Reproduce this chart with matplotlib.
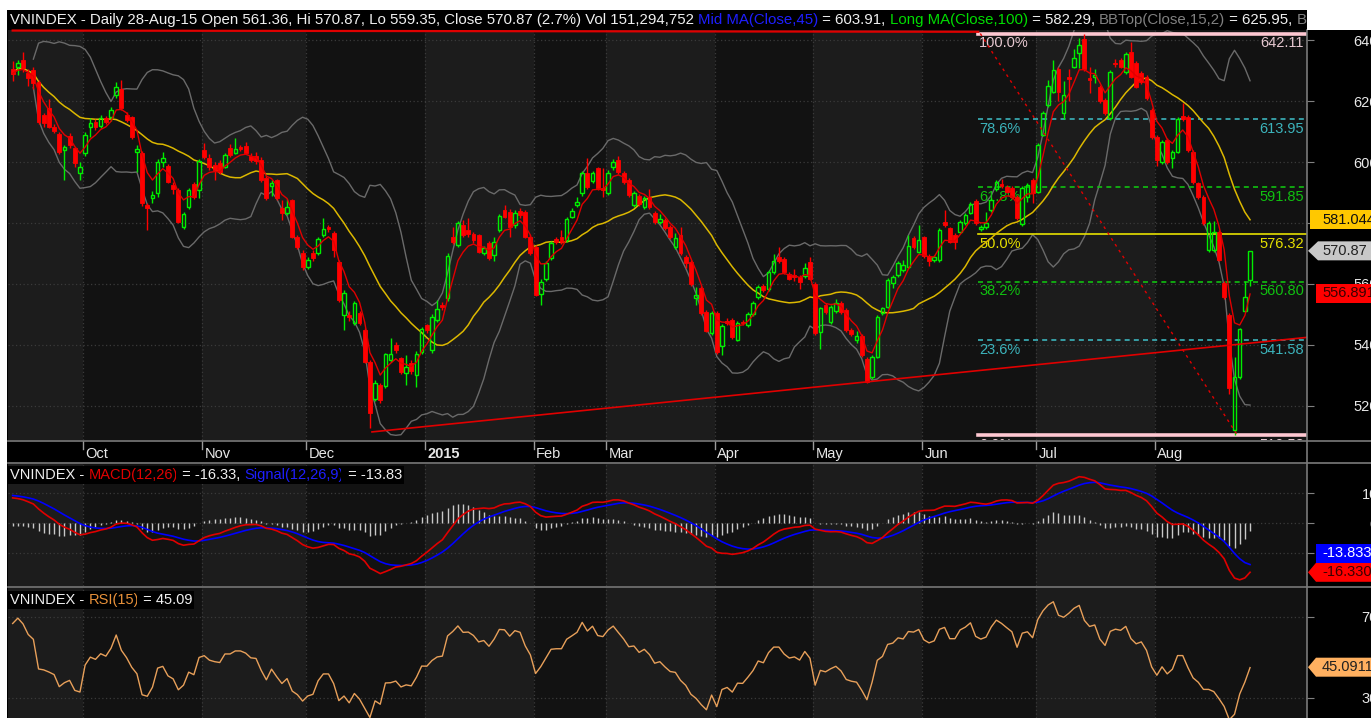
import numpy as np
import pandas as pd
import matplotlib
matplotlib.use("Agg")
import matplotlib.pyplot as plt
from matplotlib.patches import Polygon, Rectangle
from matplotlib.lines import Line2D

W, H = 1371, 718
plt.rcParams["font.family"] = ["Liberation Sans", "DejaVu Sans"]

# ---- daily VNINDEX candles, Sep 2014 .. 28 Aug 2015 ----
open_ = [
    630.5, 631.3, 633.4, 629.1, 630.2, 626.3, 615.4, 617.6, 611.6, 609.2, 603.9, 608.5, 604.5, 596.5,
    603.1, 611.6, 613.2, 611.9, 614.3, 614.6, 622.0, 623.8, 615.4, 614.6, 603.4, 602.8, 585.9, 588.3,
    589.7, 600.0, 598.7, 592.5, 590.8, 578.6, 585.4, 592.8, 590.8,
    603.9, 601.2, 599.0, 599.6, 598.5, 604.5, 603.1, 605.0, 605.2, 602.0, 602.0, 600.7, 594.6, 592.0,
    594.1, 584.8, 583.2, 587.5, 575.5, 570.1,
    565.7, 570.1, 570.1, 576.1, 578.6, 576.8, 567.3, 549.8, 549.8, 547.1, 550.4, 544.9, 534.5, 522.2,
    526.9, 526.6, 535.1, 540.0, 535.6, 530.9, 534.0, 530.2, 537.8,
    546.5, 538.4, 548.2, 553.1, 555.3, 575.3, 572.8, 579.3, 577.7, 576.4, 576.1, 570.3, 573.5, 569.5,
    577.7, 584.3, 583.7, 579.3, 584.0, 583.7, 575.5,
    572.2, 556.7, 561.8, 568.4, 574.6, 575.3, 574.4, 582.1, 585.9, 589.7, 596.5, 593.9, 597.9, 591.4,
    589.9, 598.2, 600.7, 596.3, 594.1, 585.9, 588.8, 585.3, 588.6, 583.2, 580.2, 581.0, 578.8, 572.0,
    576.1, 569.0, 567.3, 555.3, 558.6, 550.9, 544.0,
    550.4, 539.7, 548.0, 548.2, 541.8, 547.6, 546.5, 550.2, 555.8, 559.3, 558.2, 564.0, 568.7, 568.1,
    563.3, 562.8, 562.4, 562.6, 567.3,
    560.0, 544.4, 553.1, 547.6, 551.2, 553.9, 551.5, 544.9, 541.8, 542.9, 535.3, 529.4, 536.2, 550.4,
    552.6, 560.2, 563.0, 564.6, 565.7, 575.0, 570.6,
    575.3, 569.2, 567.9, 567.9, 580.4, 578.2, 576.1, 577.2, 579.9, 583.4, 587.3, 578.1, 578.6, 584.3,
    591.0, 592.8, 591.9, 591.4, 588.6, 579.7, 588.6, 594.1,
    590.3, 608.9, 618.7, 623.1, 630.4, 616.2, 627.8, 631.3, 635.6, 640.2, 627.4, 628.0, 624.7, 620.3,
    614.3, 632.6, 633.4, 629.6, 636.2, 632.4, 629.1, 628.0, 617.1,
    608.3, 600.1, 607.2, 601.2, 603.4, 615.1, 614.9, 603.4, 593.0, 588.6, 571.0, 571.1, 577.2, 560.2,
    549.8, 512.0, 529.4, 551.3, 561.36,
]
high = [
    633.0, 633.5, 636.2, 630.5, 631.0, 627.0, 616.0, 620.8, 612.5, 610.0, 605.5, 609.5, 605.0, 600.0,
    610.0, 614.3, 614.0, 615.5, 615.0, 618.0, 626.3, 626.9, 616.5, 615.0, 605.6, 603.5, 586.5, 590.5,
    601.0, 603.4, 599.5, 593.5, 591.5, 583.5, 591.5, 593.5, 601.0,
    606.1, 602.5, 600.0, 600.5, 603.0, 605.9, 607.8, 605.5, 606.7, 603.0, 603.4, 601.5, 595.5, 594.0,
    594.5, 587.5, 588.0, 588.0, 576.0, 571.0,
    569.0, 571.0, 575.5, 581.5, 579.5, 577.5, 568.0, 558.0, 551.0, 554.5, 551.0, 545.5, 535.0, 528.5,
    527.5, 537.5, 542.2, 541.1, 536.0, 536.7, 535.0, 538.0, 546.0,
    547.0, 550.0, 554.8, 554.0, 570.0, 578.8, 580.8, 581.0, 581.5, 577.0, 576.5, 572.5, 574.0, 575.5,
    583.0, 585.9, 584.5, 584.3, 584.8, 584.2, 576.0,
    572.8, 561.5, 567.5, 574.2, 575.5, 577.7, 582.0, 585.0, 588.4, 597.0, 601.2, 597.2, 598.5, 597.9,
    597.3, 601.0, 602.0, 597.0, 594.8, 590.4, 589.5, 589.0, 591.0, 583.8, 583.0, 581.6, 579.4, 576.8,
    578.6, 569.6, 567.9, 559.1, 559.2, 551.5, 551.2,
    551.0, 546.8, 549.0, 548.8, 547.9, 548.2, 550.8, 554.3, 559.7, 559.9, 564.6, 569.8, 572.2, 568.7,
    563.9, 565.0, 563.0, 567.0, 568.8,
    560.6, 552.6, 553.7, 553.2, 555.0, 554.5, 552.1, 545.5, 544.5, 543.5, 535.9, 536.8, 549.9, 552.6,
    561.9, 563.0, 567.4, 568.0, 576.0, 575.6, 579.3,
    575.9, 569.8, 569.6, 578.3, 584.3, 578.8, 576.7, 581.0, 583.2, 586.8, 587.9, 579.4, 583.7, 588.1,
    594.1, 594.5, 592.5, 592.0, 589.2, 592.0, 593.1, 594.7,
    606.2, 616.8, 626.9, 633.5, 631.0, 626.5, 630.5, 637.0, 640.5, 642.11, 631.0, 630.5, 625.3, 620.9,
    630.2, 633.8, 634.0, 636.0, 639.5, 633.0, 629.7, 628.6, 617.7,
    608.9, 607.3, 607.8, 604.0, 614.6, 619.2, 615.5, 604.0, 593.6, 589.2, 580.8, 580.8, 577.8, 560.9,
    550.4, 536.2, 545.7, 560.9, 570.87,
]
low = [
    626.5, 628.5, 629.5, 625.0, 624.0, 612.5, 611.5, 611.0, 609.5, 602.5, 594.1, 604.5, 598.5, 594.1,
    602.0, 608.3, 610.5, 611.0, 612.5, 613.5, 621.0, 617.0, 613.0, 607.5, 596.8, 585.5, 577.7, 586.5,
    588.5, 598.5, 593.0, 589.5, 580.0, 578.0, 584.5, 588.0, 588.1,
    601.0, 597.5, 594.0, 596.0, 598.0, 601.5, 602.5, 603.5, 602.5, 600.0, 599.5, 593.5, 587.5, 589.0,
    587.5, 581.0, 582.5, 575.0, 571.5, 564.6,
    565.0, 567.5, 569.5, 575.5, 577.0, 569.0, 554.0, 545.0, 548.0, 546.5, 546.5, 534.0, 512.7, 521.5,
    521.0, 526.0, 534.5, 537.5, 530.5, 526.9, 530.5, 526.1, 537.0,
    544.0, 537.5, 547.5, 551.5, 554.5, 573.0, 572.0, 575.5, 575.5, 573.5, 570.0, 569.5, 567.9, 567.5,
    577.0, 581.5, 575.5, 578.5, 581.5, 575.0, 569.5,
    556.0, 553.1, 561.0, 567.8, 573.2, 573.2, 573.8, 581.5, 585.3, 589.0, 591.2, 593.2, 590.8, 588.6,
    589.3, 597.5, 596.2, 592.8, 588.6, 585.3, 585.5, 584.6, 584.6, 579.8, 579.6, 577.6, 574.9, 571.4,
    569.5, 565.1, 559.4, 553.1, 549.8, 544.1, 543.4,
    537.2, 536.7, 546.7, 542.1, 541.2, 546.5, 545.9, 549.6, 555.2, 557.4, 557.6, 563.4, 567.0, 563.4,
    561.2, 561.0, 558.2, 562.0, 561.2,
    543.4, 538.6, 550.3, 547.0, 550.6, 550.3, 544.3, 543.0, 540.5, 536.1, 527.4, 528.8, 535.6, 549.8,
    552.0, 558.6, 562.4, 564.0, 565.1, 571.6, 570.0,
    568.6, 565.9, 567.3, 567.3, 578.7, 573.3, 571.5, 576.6, 579.3, 582.8, 579.5, 577.5, 578.0, 583.7,
    590.4, 591.5, 589.7, 588.0, 580.9, 579.1, 587.0, 586.4,
    589.7, 608.5, 618.1, 622.5, 620.0, 614.0, 620.0, 630.7, 630.7, 629.8, 622.5, 626.0, 619.5, 615.4,
    613.7, 631.0, 630.7, 629.0, 627.4, 624.1, 625.7, 620.3, 607.7,
    598.6, 599.5, 599.5, 597.9, 602.8, 613.4, 603.3, 592.9, 588.0, 579.3, 570.4, 570.5, 567.4, 555.2,
    524.0, 510.58, 528.8, 550.7, 559.35,
]
close = [
    629.0, 632.4, 630.7, 627.4, 625.8, 613.2, 612.7, 611.6, 610.3, 603.4, 604.8, 605.6, 599.6, 598.5,
    608.9, 612.7, 611.6, 614.3, 613.2, 617.0, 624.5, 617.6, 613.8, 608.3, 604.2, 586.4, 584.8, 589.2,
    600.1, 601.2, 593.6, 591.0, 580.4, 583.0, 590.8, 588.6, 600.4,
    601.8, 598.5, 597.4, 596.8, 602.3, 602.3, 604.2, 604.2, 603.1, 600.7, 600.4, 594.1, 588.1, 593.0,
    588.1, 583.2, 585.4, 575.5, 572.2, 565.7,
    567.9, 568.6, 574.6, 577.9, 577.9, 571.1, 554.8, 557.0, 549.1, 553.7, 547.3, 534.5, 517.6, 527.6,
    522.0, 537.0, 537.2, 538.4, 531.3, 532.7, 531.6, 537.2, 545.1,
    545.0, 549.1, 551.7, 552.3, 569.3, 573.9, 580.1, 576.1, 576.4, 574.4, 570.6, 571.7, 568.4, 573.9,
    582.3, 582.1, 578.8, 583.4, 582.6, 575.5, 570.1,
    556.4, 560.8, 566.8, 573.5, 573.9, 573.9, 581.2, 584.0, 587.0, 596.5, 591.9, 596.5, 591.4, 590.8,
    596.5, 600.1, 596.8, 593.5, 589.2, 589.7, 586.2, 588.1, 585.3, 580.4, 581.2, 578.2, 575.5, 575.0,
    570.1, 566.8, 560.0, 556.4, 550.4, 544.7, 550.6,
    537.8, 546.2, 547.3, 542.7, 547.3, 547.1, 550.2, 553.7, 559.1, 558.0, 564.0, 567.6, 567.6, 564.0,
    561.8, 562.4, 560.8, 565.1, 561.8,
    544.0, 552.0, 550.9, 552.6, 553.9, 550.9, 544.9, 543.6, 542.9, 536.7, 528.0, 536.2, 549.3, 552.0,
    561.3, 562.4, 566.8, 566.2, 572.5, 572.2, 574.4,
    569.2, 567.6, 569.0, 577.7, 579.3, 573.9, 573.9, 580.4, 582.6, 586.2, 580.1, 578.8, 580.1, 587.5,
    593.5, 592.1, 590.3, 588.6, 581.5, 591.4, 592.5, 589.7,
    605.6, 616.2, 624.9, 630.2, 623.1, 622.0, 627.1, 634.0, 638.4, 630.4, 626.9, 628.5, 620.1, 616.0,
    629.6, 632.0, 631.3, 635.4, 628.0, 624.7, 626.3, 620.9, 608.3,
    600.7, 606.7, 600.1, 603.4, 614.0, 614.0, 603.9, 593.5, 588.6, 579.9, 579.9, 577.2, 568.0, 555.8,
    525.8, 529.6, 545.1, 555.86, 570.87,
]

# month axis (index of first session of each month)
month_labels = ["Oct", "Nov", "Dec", "2015", "Feb", "Mar", "Apr", "May", "Jun", "Jul", "Aug"]
month_start = [14, 37, 57, 80, 101, 115, 136, 155, 176, 198, 221]

# price axis ticks
price_ticks = [520, 540, 560, 580, 600, 620, 640]

# fibonacci retracement drawn on the chart
fib_pct = [100.0, 78.6, 61.8, 50.0, 38.2, 23.6, 0.0]
fib_val = [642.11, 613.95, 591.85, 576.32, 560.80, 541.58, 510.58]
fib_from = [186.9, 642.11]
fib_to = [236.5, 510.58]

# trend lines drawn by hand
trend_x = [69.4, 250.0]
trend_y = [511.5, 542.5]
top_x = [0.0, 186.5]
top_y = [643.1, 642.7]

# seeds for the indicators (state before the first visible bar)
macd_seed = {"ema12": 627.0, "ema26": 618.0, "signal": 9.5}
rsi_seed = {"gain": 2.0, "loss": 1.0}

# ---- indicators ----
o = np.array(open_)
hi = np.array(high)
lo = np.array(low)
c = np.array(close)
n = len(c)
x = np.arange(n)
s = pd.Series(c)
ema5 = s.ewm(span=5, adjust=False).mean()
sma20 = s.rolling(20, min_periods=1).mean()
mid15 = s.rolling(15, min_periods=5).mean()
sd15 = s.rolling(15, min_periods=5).std(ddof=0)
bb_top = mid15 + 2 * sd15
bb_bot = mid15 - 2 * sd15


def ema_from(values, span, start):
    a = 2.0 / (span + 1)
    out = np.empty(len(values))
    e = start
    for i, v in enumerate(values):
        e += a * (v - e)
        out[i] = e
    return out


macd = ema_from(c, 12, macd_seed["ema12"]) - ema_from(c, 26, macd_seed["ema26"])
signal = ema_from(macd, 9, macd_seed["signal"])
hist = macd - signal

d = np.diff(c, prepend=c[0])
ag, al = rsi_seed["gain"], rsi_seed["loss"]
rsi = []
for g, l_ in zip(np.clip(d, 0, None), np.clip(-d, 0, None)):
    ag = (ag * 14 + g) / 15
    al = (al * 14 + l_) / 15
    rsi.append(100 - 100 / (1 + ag / al))
rsi = np.array(rsi)

# ---- figure layout (pixel based) ----
fig = plt.figure(figsize=(W / 100, H / 100), dpi=100, facecolor="white")


def fx(p):
    return p / W


def fy(p):
    return 1 - p / H


def box(l, t, r, b):
    return [fx(l), fy(b), fx(r) - fx(l), fy(t) - fy(b)]


fig.add_artist(Rectangle((fx(7), 0), fx(1307) - fx(7), fy(10), transform=fig.transFigure,
                         facecolor="black", edgecolor="none", zorder=-20))
fig.add_artist(Rectangle((fx(1307), 0), 1 - fx(1307), fy(30), transform=fig.transFigure,
                         facecolor="black", edgecolor="none", zorder=-20))

ax = fig.add_axes(box(8, 30, 1307, 440))
axd = fig.add_axes(box(8, 441, 1307, 463))
axm = fig.add_axes(box(8, 464, 1307, 586))
axr = fig.add_axes(box(8, 588, 1307, 718))

XLIM = (-0.9, 250.0)
LIGHT, DARK = "#1c1c1c", "#121212"
GRID = "#3a3a3a"
TXT = "#e8e8e8"
FS = 10.5
ticks = [m - 0.4 for m in month_start]
edges = [XLIM[0]] + ticks + [XLIM[1]]

for a in (ax, axm, axr):
    a.set_xlim(*XLIM)
    a.set_facecolor(DARK)
    for i in range(len(edges) - 1):
        a.axvspan(edges[i], edges[i + 1], color=LIGHT if i % 2 == 0 else DARK, lw=0, zorder=0)
    for t in ticks:
        a.axvline(t, color=GRID, lw=0.9, ls=(0, (1, 2)), zorder=1)
    for sp in a.spines.values():
        sp.set_visible(False)
    a.set_xticks([])
    a.yaxis.tick_right()
    a.tick_params(axis="y", length=5, color="#808080", labelcolor=TXT, labelsize=FS, pad=46)
    a.grid(axis="y", color=GRID, lw=0.9, ls=(0, (1, 2)), zorder=1)


def right_labels(a):
    for lab in a.get_yticklabels():
        lab.set_horizontalalignment("right")


# ---- main price panel ----
ax.set_ylim(508.85, 643.28)
ax.set_yticks(price_ticks)
right_labels(ax)

ax.plot(x, bb_top, color="#6a6a6a", lw=1.0, zorder=2)
ax.plot(x, bb_bot, color="#6a6a6a", lw=1.0, zorder=2)
ax.plot(x, sma20, color="#dcb800", lw=1.1, zorder=3)

GREEN, RED = "#00ee00", "#ff0000"
up = c >= o
b_lo = np.minimum(o, c)
b_hi = np.maximum(o, c)
col = np.where(up, GREEN, RED)
ax.vlines(x, b_hi, hi, colors=col, lw=1.0, zorder=4)
ax.vlines(x, lo, b_lo, colors=col, lw=1.0, zorder=4)
ax.bar(x[~up], (b_hi - b_lo)[~up], bottom=b_lo[~up], width=0.75, color=RED,
       edgecolor=RED, lw=0.6, zorder=4)
ax.bar(x[up], (b_hi - b_lo)[up], bottom=b_lo[up], width=0.68, facecolor="none",
       edgecolor=GREEN, lw=1.0, zorder=4)
ax.plot(x, ema5, color="#e00000", lw=1.0, zorder=5)

# trend lines
ax.plot(trend_x, trend_y, color="#e00000", lw=1.2, zorder=5)
ax.plot(top_x, top_y, color="#e00000", lw=1.6, zorder=5, clip_on=False)
ax.plot([fib_from[0], fib_to[0]], [fib_from[1], fib_to[1]], color="#e00000", lw=1.0,
        ls=(0, (2, 3)), zorder=5)

# fibonacci levels
fib_style = {
    100.0: ("#ffc8d2", "-", 2.6, "#e6c8d0"),
    78.6: ("#3cb4bc", (0, (3, 2.5)), 1.2, "#3cb4bc"),
    61.8: ("#10c010", (0, (3, 2.5)), 1.2, "#10c010"),
    50.0: ("#e6e000", "-", 1.2, "#e6e000"),
    38.2: ("#10c010", (0, (3, 2.5)), 1.2, "#10c010"),
    23.6: ("#3cb4bc", (0, (3, 2.5)), 1.2, "#3cb4bc"),
    0.0: ("#ffc8d2", "-", 2.6, "#e6c8d0"),
}
for p, v in zip(fib_pct, fib_val):
    lc, ls, lw, tc = fib_style[p]
    ax.plot([fib_from[0] - 0.4, XLIM[1]], [v, v], color=lc, ls=ls, lw=lw, zorder=2)
    for txt, xx, dx, ha in ((f"{p:.1f}%", fib_from[0] - 0.2, 0, "left"),
                            (f"{v:.2f}", XLIM[1], -2, "right")):
        t = ax.annotate(txt, (xx, v), xytext=(dx, -2), textcoords="offset points",
                        color=tc, fontsize=FS, ha=ha, va="top", zorder=2, annotation_clip=False)
        t.set_clip_on(True)
        t.set_clip_box(ax.bbox)

# ---- date strip ----
axd.set_xlim(*XLIM)
axd.set_ylim(0, 1)
axd.set_facecolor("black")
axd.axis("off")
for t, lab in zip(ticks, month_labels):
    axd.plot([t, t], [0.62, 1.0], color="#9a9a9a", lw=1.0)
    axd.text(t + 0.5, 0.42, lab, color=TXT, fontsize=FS, ha="left", va="center",
             fontweight="bold" if lab == "2015" else "normal")

# ---- MACD panel ----
axm.set_ylim(-20.9, 19.8)
axm.set_yticks([-10, 0, 10])
axm.set_yticklabels(["", "0", "10"])
right_labels(axm)
axm.vlines(x, 0, hist, colors="#c8c8c8", lw=1.0, zorder=2)
axm.plot(x, signal, color="#0000ff", lw=1.2, zorder=3)
axm.plot(x, macd, color="#e00000", lw=1.2, zorder=4)

# ---- RSI panel ----
axr.set_ylim(20.0, 84.2)
axr.set_yticks([30, 70])
right_labels(axr)
axr.plot(x, rsi, color="#e8a05a", lw=1.0, zorder=3)

# ---- separators ----
for yy in (441, 463, 587):
    fig.add_artist(Line2D([fx(8), 1], [fy(yy), fy(yy)], transform=fig.transFigure,
                          color="#7a7a7a", lw=1.2, zorder=15))
fig.add_artist(Line2D([fx(1307), fx(1307)], [0, fy(30)], transform=fig.transFigure,
                      color="#7a7a7a", lw=1.2, zorder=15))

# ---- texts ----
rend = fig.canvas.get_renderer()


def text_width(s_, size):
    t = fig.text(0, 0, s_ + "|", fontsize=size)
    w = t.get_window_extent(renderer=rend).width
    t.remove()
    t = fig.text(0, 0, "|", fontsize=size)
    w -= t.get_window_extent(renderer=rend).width
    t.remove()
    return w


def colored(x_px, y_px, parts, size=FS, bg=False):
    prefix = ""
    for s_, col_ in parts:
        xx = x_px + (text_width(prefix, size) if prefix else 0)
        t = fig.text(fx(xx), fy(y_px), s_, color=col_, fontsize=size, ha="left", va="center",
                     zorder=20)
        if bg:
            t.set_bbox(dict(facecolor="black", edgecolor="none", pad=1.5))
        prefix += s_


W_ = "#f0f0f0"
colored(10, 20, [
    ("VNINDEX - Daily 28-Aug-15 Open 561.36, Hi 570.87, Lo 559.35, Close 570.87 (2.7%) Vol 151,294,752 ", W_),
    ("Mid MA(Close,45)", "#1e1eff"), (" = 603.91, ", W_),
    ("Long MA(Close,100)", "#00dd00"), (" = 582.29, ", W_),
    ("BBTop(Close,15,2)", "#808080"), (" = 625.95, ", W_), ("BBot", "#808080"),
], size=10.85)
colored(10, 475, [("VNINDEX - ", W_), ("MACD(12,26)", "#e00000"), (" = -16.33, ", W_),
                  ("Signal(12,26,9)", "#1e1eff"), (" = -13.83", W_)], bg=True)
colored(10, 600, [("VNINDEX - ", W_), ("RSI(15)", "#e8913a"), (" = 45.09", W_)], bg=True)

# white margin right of the header clips the header text at the panel edge
fig.add_artist(Rectangle((fx(1307), fy(30)), 1 - fx(1307), fy(0) - fy(30), transform=fig.transFigure,
                         facecolor="white", edgecolor="none", zorder=25))


def tag(a, value, label, fc, tc, arrow, x0=1316, shift=0.0):
    ypix = a.transData.transform((0, value))[1] + shift
    yc = ypix / H
    hh = 9.5 / H
    if arrow:
        pts = [(fx(1308), yc), (fx(x0), yc + hh), (1.01, yc + hh), (1.01, yc - hh), (fx(x0), yc - hh)]
    else:
        pts = [(fx(x0), yc + hh), (1.01, yc + hh), (1.01, yc - hh), (fx(x0), yc - hh)]
    fig.add_artist(Polygon(pts, closed=True, transform=fig.transFigure, facecolor=fc,
                           edgecolor="none", zorder=30))
    fig.text(fx(1322), yc, label, color=tc, fontsize=FS, ha="left", va="center", zorder=31)


tag(ax, 581.044, "581.044", "#ffc800", "#101010", False, x0=1310)
tag(ax, 570.87, "570.87", "#c8c8c8", "#202020", True, x0=1318)
tag(ax, 556.891, "556.891", "#ff0000", "#3a0000", False)
tag(axm, -16.3305, "-16.3305", "#ff0000", "#3a0000", True)
tag(axm, -16.3305, "-13.8330", "#0000ff", "#ffffff", False, shift=19)
tag(axr, 45.0911, "45.0911", "#ffb060", "#202020", True)

fig.savefig("out.png", dpi=100, facecolor="white")
